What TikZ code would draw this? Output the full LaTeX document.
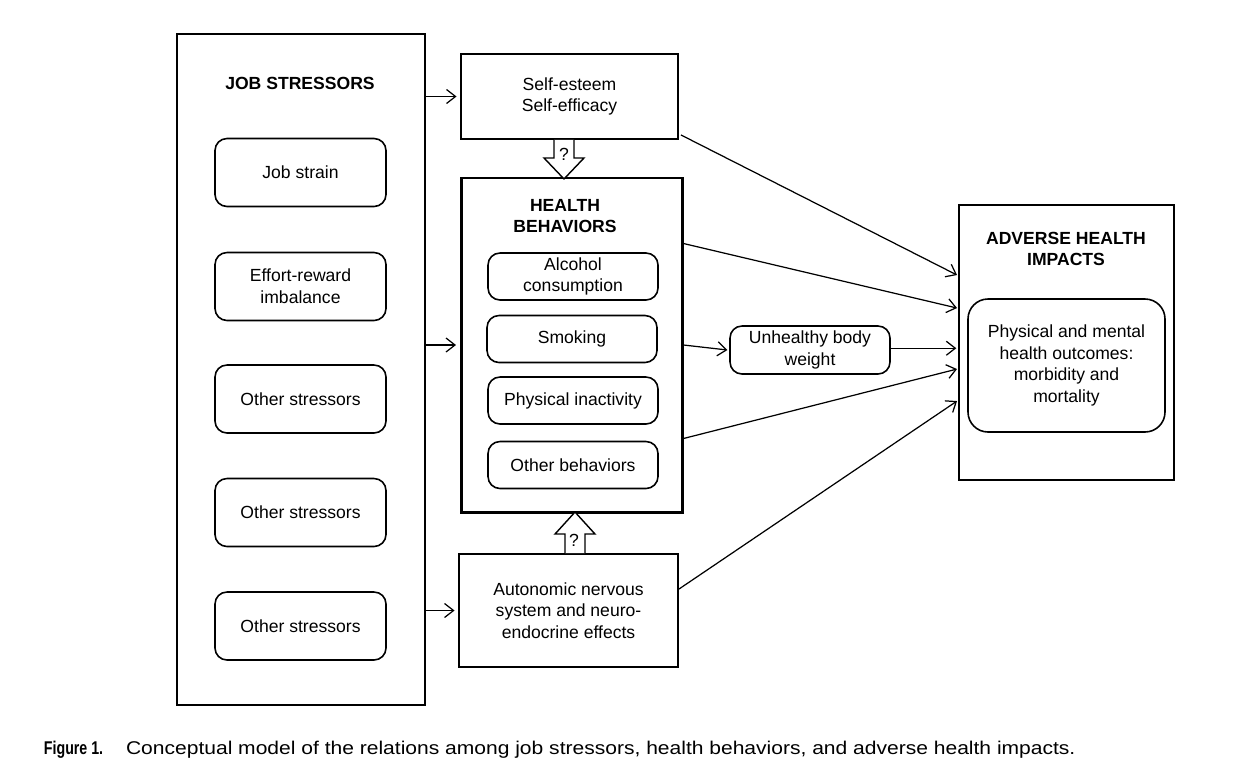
\documentclass[tikz,border=0pt]{standalone}
\usepackage{fontspec}
\setmainfont{Liberation Sans}
\usepackage{tikz}
\usetikzlibrary{arrows.meta,positioning,calc}

\begin{document}
\begin{tikzpicture}[x=0.2mm,y=-0.2mm,font=\fontsize{10}{12.3}\selectfont]
	\useasboundingbox (0,0) rectangle (1236,780);
	\begin{scope}[every node/.style={rectangle,draw,line width=1.1pt,align=center,inner sep=2pt}]
		\node[minimum width=4.96cm,minimum height=13.42cm] (stress) at (301,369.5) {};
		\node[draw=none,font=\fontsize{10}{12.3}\selectfont\bfseries] (stresstitle) at (300,83) {JOB STRESSORS};
		\begin{scope}[every node/.append style={rounded corners=2.4mm,line width=0.9pt,minimum width=3.42cm,minimum height=1.36cm}]
			\node (strain) at (300.5,172.5) {Job strain};
			\node (effort) at (300.5,286.5) {Effort-reward\\imbalance};
			\node (other1) at (300.5,399) {Other stressors};
			\node (other2) at (300.5,512.5) {Other stressors};
			\node (other3) at (300.5,626) {Other stressors};
		\end{scope}
		
		\node[minimum width=4.34cm,minimum height=1.7cm] (selfbox) at (569.5,96.5) {Self-esteem\\Self-efficacy};
		\node[line width=1.7pt,minimum width=4.42cm,minimum height=6.68cm] (health) at (571.5,345) {};
		\node[draw=none,font=\fontsize{10}{12.3}\selectfont\bfseries] (healthtitle) at (565,216) {HEALTH\\BEHAVIORS};
		\begin{scope}[every node/.append style={rounded corners=2.4mm,line width=0.9pt,minimum width=3.4cm,minimum height=0.94cm}]
			\node (alcohol) at (573,276.5) {Alcohol\\consumption};
			\node (smoking) at (572,339) {Smoking};
			\node (inactive) at (573,400.5) {Physical inactivity};
			\node (otherbeh) at (573,465) {Other behaviors};
		\end{scope}
		\node[minimum width=4.38cm,minimum height=2.26cm] (autonomic) at (568.5,610.5) {Autonomic nervous\\system and neuro-\\endocrine effects};
		
		\node[rounded corners=2.4mm,line width=0.9pt,minimum width=3.2cm,minimum height=0.96cm] (weight) at (810,350) {Unhealthy body\\weight};
		
		\node[minimum width=4.3cm,minimum height=5.5cm] (adverse) at (1066.5,342.5) {};
		\node[draw=none,font=\fontsize{10}{12.3}\selectfont\bfseries] (adversetitle) at (1066,249) {ADVERSE HEALTH\\IMPACTS};
		\node[rounded corners=4mm,line width=0.9pt,minimum width=3.94cm,minimum height=2.66cm] (outcome) at (1066.5,365.5) {Physical and mental\\health outcomes:\\morbidity and\\mortality};
		
		\node[draw=none,anchor=west,inner sep=0pt,font=\fontsize{10.5}{12}\selectfont] (caption) at (43,750) {\scalebox{0.77}[1]{\textbf{Figure 1.}}\hspace{13pt}\scalebox{1.14}[1]{Conceptual model of the relations among job stressors, health behaviors, and adverse health impacts.}};
	\end{scope}
	
	\begin{scope}[line width=0.7pt,-{Straight Barb[length=1.8mm,width=2.8mm]}]
		\draw (stress.east |- selfbox) -- ([xshift=-2pt]selfbox.west);
		\draw (stress.east |- health) -- ([xshift=-2pt]health.west);
		\draw (stress.east |- autonomic) -- ([xshift=-2pt]autonomic.west);
		
		\coordinate (in1) at ($(adverse.north west)+(-1,71)$);
		\coordinate (in2) at ($(adverse.north west)+(-1,104)$);
		\coordinate (in4) at ($(adverse.north west)+(-1,165)$);
		\coordinate (in5) at ($(adverse.north west)+(-1,197)$);
		
		\draw ($(selfbox.south east)+(2,-5)$) -- (in1);
		\draw ($(health.north east)+(0,67)$) -- (in2);
		\draw (health.east) -- ([xshift=-1pt]weight.west);
		\draw ([yshift=1pt]weight.east) -- ([xshift=-1pt,yshift=1pt]weight.east -| adverse.west);
		\draw ($(health.south east)+(0,-75)$) -- (in4);
		\draw ($(autonomic.north east)+(0,36)$) -- (in5);
	\end{scope}
	
	\begin{scope}[line width=0.8pt]
		\draw[fill=white] ($(selfbox.south)+(-15.5,0)$) -- ++(0,18) -- ++(-10,0) -- ++(20,21) -- ++(20,-21) -- ++(-10,0) -- ++(0,-18);
		\node[inner sep=0pt] (q1) at ($(selfbox.south)+(-5.5,14)$) {?};
		\draw[fill=white] ($(autonomic.north)+(-3.5,0)$) -- ++(0,-19) -- ++(-10,0) -- ++(20,-22) -- ++(20,22) -- ++(-10,0) -- ++(0,19);
		\node[inner sep=0pt] (q2) at ($(autonomic.north)+(5.5,-13)$) {?};
	\end{scope}
\end{tikzpicture}
\end{document}
